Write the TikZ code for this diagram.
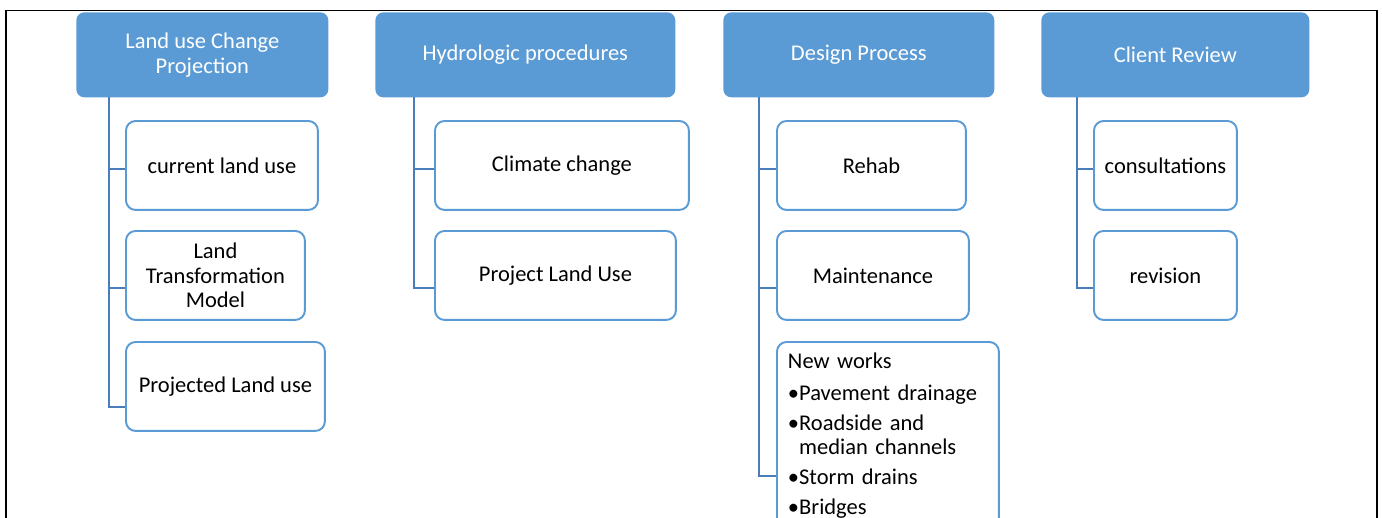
\documentclass[tikz,border=0pt]{standalone}
\usepackage{fontspec}
\setmainfont{Carlito}
\definecolor{hdrblue}{HTML}{5B9BD5}
\definecolor{linkblue}{HTML}{4A7EBB}
\tikzset{
    head/.style={anchor=north west, fill=hdrblue, text=white, rounded corners=4.5pt,
        minimum height=1.7cm, align=center, font=\fontsize{12.8}{14}\selectfont},
    item/.style={anchor=north west, draw=hdrblue, fill=white, line width=1.1pt,
        rounded corners=5.5pt, minimum height=1.78cm, align=center,
        font=\fontsize{12.8}{14}\selectfont},
    branch/.style={draw=linkblue, line width=1.6pt}
}
\begin{document}
\begin{tikzpicture}[x=0.02cm,y=-0.02cm]
    \useasboundingbox (0,0) rectangle (1382,517);
    % frame
    \draw[line width=1.1pt] (6,530) -- (6,10.5) -- (1377,10.5) -- (1377,530);
    % headers
    \node[head, minimum width=5.04cm] (H1) at (76,12) {Land use Change\\Projection};
    \node[head, minimum width=6.00cm] (H2) at (375,12) {Hydrologic procedures};
    \node[head, minimum width=5.42cm] (H3) at (723,12) {Design Process};
    \node[head, minimum width=5.36cm] (H4) at (1041,12) {Client Review};
    % sub items
    \node[item, minimum width=3.84cm] (A1) at (125,120) {current land use};
    \node[item, minimum width=3.58cm] (A2) at (125,230) {Land\\Transformation\\Model};
    \node[item, minimum width=3.98cm] (A3) at (125,341) {Projected Land use};
    \node[item, minimum width=5.08cm] (B1) at (434,120) {Climate change};
    \node[item, minimum width=4.82cm] (B2) at (434,230) {Project Land Use};
    \node[item, minimum width=3.78cm] (C1) at (776,120) {Rehab};
    \node[item, minimum width=3.84cm] (C2) at (776,230) {Maintenance};
    \node[item, minimum width=4.44cm, text width=4.0cm, align=left, inner xsep=0.22cm,
        inner ysep=0.22cm] (C3) at (776,341)
        {New works\\[4pt]
         \textbullet Pavement drainage\\[3pt]
         \textbullet Roadside and\\
         \phantom{\textbullet}median channels\\[3pt]
         \textbullet Storm drains\\[3pt]
         \textbullet Bridges};
    \node[item, minimum width=2.86cm] (D1) at (1093,120) {consultations};
    \node[item, minimum width=2.86cm] (D2) at (1093,230) {revision};
    % trunks
    \coordinate (T1) at (109,97);
    \coordinate (T2) at (414,97);
    \coordinate (T3) at (759,97);
    \coordinate (T4) at (1077,97);
    % branches
    \draw[branch] (T1) |- (A3.west |- 0,407);
    \draw[branch] (T1 |- 0,169) -- (A1.west |- 0,169);
    \draw[branch] (T1 |- 0,288) -- (A2.west |- 0,288);
    \draw[branch] (T2) |- (B2.west |- 0,288);
    \draw[branch] (T2 |- 0,169) -- (B1.west |- 0,169);
    \draw[branch] (T3) |- (C3.west |- 0,476);
    \draw[branch] (T3 |- 0,169) -- (C1.west |- 0,169);
    \draw[branch] (T3 |- 0,288) -- (C2.west |- 0,288);
    \draw[branch] (T4) |- (D2.west |- 0,288);
    \draw[branch] (T4 |- 0,169) -- (D1.west |- 0,169);
\end{tikzpicture}
\end{document}
